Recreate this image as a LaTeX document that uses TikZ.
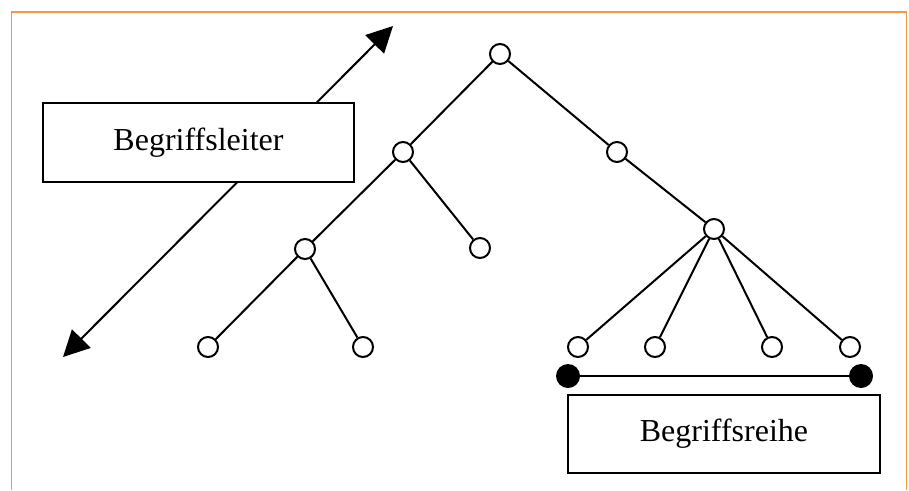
\documentclass[tikz,border=0pt]{standalone}
\usepackage{fontspec}
\setmainfont{Liberation Serif}
\usetikzlibrary{arrows.meta}
\definecolor{frameorange}{HTML}{F79646}
\tikzset{
  knot/.style={circle,draw,line width=2pt,fill=white,minimum size=20pt,inner sep=0pt},
  dot/.style={circle,fill=black,minimum size=24pt,inner sep=0pt},
  edge/.style={line width=2pt},
  labelbox/.style={draw,line width=2pt,fill=white,inner sep=0pt,font=\fontsize{32}{38}\selectfont},
}
\begin{document}
\begin{tikzpicture}[x=1pt,y=-1pt]
\useasboundingbox (0,0) rectangle (909,490);
\draw[frameorange,line width=1.5pt] (11.5,490) -- (11.5,12) -- (906.5,12) -- (906.5,490);
% arrow
\coordinate (aup) at (393,26);
\coordinate (adown) at (63,357);
\draw[line width=2pt,{Triangle[length=26pt,width=26pt]}-{Triangle[length=26pt,width=26pt]}] (adown) -- (aup);
\node[labelbox,minimum width=311pt,minimum height=79pt] (leiter) at (198.5,142.5) {Begriffsleiter};
% tree nodes
\node[knot] (r) at (500,54) {};
\node[knot] (l1) at (403,152) {};
\node[knot] (r1) at (617,152) {};
\node[knot] (l2) at (305,249) {};
\node[knot] (m2) at (480,248) {};
\node[knot] (r2) at (714,229) {};
\node[knot] (ll1) at (208,347) {};
\node[knot] (ll2) at (363,347) {};
\node[knot] (rl1) at (578,347) {};
\node[knot] (rl2) at (655,347) {};
\node[knot] (rl3) at (772,347) {};
\node[knot] (rl4) at (850,347) {};
\draw[edge] (r) -- (l1);
\draw[edge] (r) -- (r1);
\draw[edge] (l1) -- (l2);
\draw[edge] (l1) -- (m2);
\draw[edge] (r1) -- (r2);
\draw[edge] (l2) -- (ll1);
\draw[edge] (l2) -- (ll2);
\draw[edge] (r2) -- (rl1);
\draw[edge] (r2) -- (rl2);
\draw[edge] (r2) -- (rl3);
\draw[edge] (r2) -- (rl4);
% series
\node[dot] (d1) at (568,376) {};
\node[dot] (d2) at (861,376) {};
\draw[edge] (d1) -- (d2);
\node[labelbox,minimum width=312pt,minimum height=78pt] (reihe) at (724,434) {Begriffsreihe};
\end{tikzpicture}
\end{document}
